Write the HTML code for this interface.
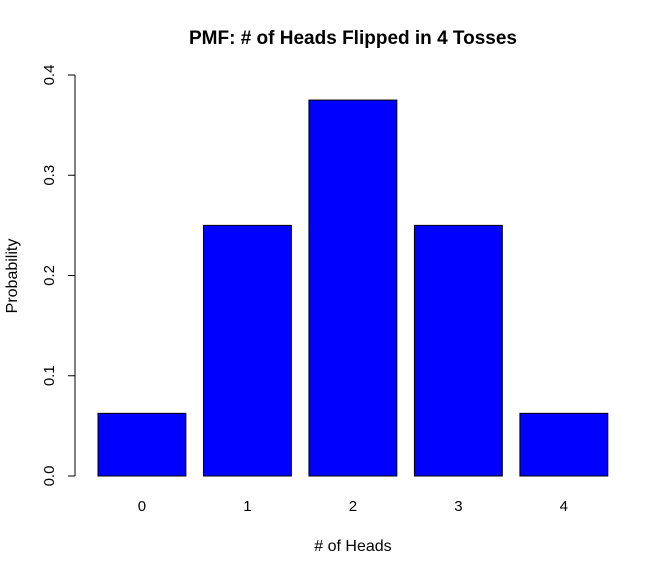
<!DOCTYPE html>
<html><head><meta charset="utf-8"><style>
html,body{margin:0;padding:0;background:#fff;}
svg{display:block;font-family:"Liberation Sans",Arial,sans-serif;}
</style></head><body>
<svg id="chart" width="667" height="564" viewBox="0 0 667 564" xmlns="http://www.w3.org/2000/svg">
<text x="353" y="44" text-anchor="middle" font-size="19" font-weight="bold">PMF: # of Heads Flipped in 4 Tosses</text>
<text x="353" y="551" text-anchor="middle" font-size="16"># of Heads</text>
<text transform="translate(17,276) rotate(-90)" text-anchor="middle" font-size="16">Probability</text>
<g id="yaxis"></g>
<g id="bars"></g>
<g id="xlabels"></g>
</svg>
<script>
const categories = ["0","1","2","3","4"];
const probabilities = [0.0625, 0.25, 0.375, 0.25, 0.0625];
const yTicks = [0, 0.1, 0.2, 0.3, 0.4];
const yTickLabels = ["0.0","0.1","0.2","0.3","0.4"];

const NS = "http://www.w3.org/2000/svg";
const y0 = 476, y1 = 75;
function yScale(v){ return y0 - (v/0.4)*(y0-y1); }
const unit = 87.9, left = 80.4;
function xStart(i){ return left + unit*(0.2 + i*1.2); }

const ya = document.getElementById("yaxis");
let ln = document.createElementNS(NS,"line");


ln.setAttribute("x1",75);ln.setAttribute("x2",75);
ln.setAttribute("y1",yScale(0));ln.setAttribute("y2",yScale(0.4));
ln.setAttribute("stroke","#000");
ya.appendChild(ln);
yTicks.forEach((t,i)=>{
  const y = yScale(t);
  const tk = document.createElementNS(NS,"line");
  
  
  tk.setAttribute("x1",68);tk.setAttribute("x2",75);
  tk.setAttribute("y1",y);tk.setAttribute("y2",y);
  tk.setAttribute("stroke","#000");
  ya.appendChild(tk);
  const tx = document.createElementNS(NS,"text");
  
  
  tx.setAttribute("transform",`translate(54,${y}) rotate(-90)`);
  tx.setAttribute("text-anchor","middle");
  tx.setAttribute("font-size","15");
  tx.textContent = yTickLabels[i];
  ya.appendChild(tx);
});

const bg = document.getElementById("bars");
const xl = document.getElementById("xlabels");
probabilities.forEach((p,i)=>{
  const r = document.createElementNS(NS,"rect");
  
  
  const x = xStart(i);
  r.setAttribute("x",x);r.setAttribute("width",unit);
  r.setAttribute("y",yScale(p));r.setAttribute("height",yScale(0)-yScale(p));
  r.setAttribute("fill","#0000ff");r.setAttribute("stroke","#000");
  bg.appendChild(r);
  const t = document.createElementNS(NS,"text");
  
  
  t.setAttribute("x",x+unit/2);t.setAttribute("y",511);
  t.setAttribute("text-anchor","middle");t.setAttribute("font-size","15");
  t.textContent = categories[i];
  xl.appendChild(t);
});
</script>
</body></html>
